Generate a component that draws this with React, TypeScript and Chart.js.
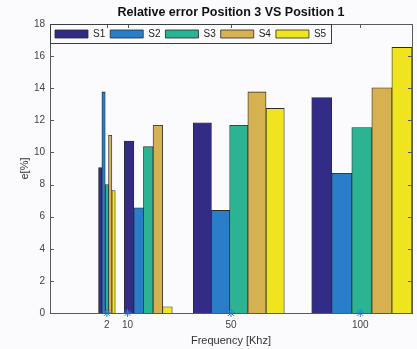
import React, { useEffect, useRef } from "react";
import { Chart, registerables } from "chart.js";

Chart.register(...registerables);

// ---- data ----
const FREQS = [2, 10, 50, 100];
const SERIES_NAMES = ["S1", "S2", "S3", "S4", "S5"];
const S1 = [9.05, 10.71, 11.85, 13.42];
const S2 = [13.77, 6.55, 6.39, 8.7];
const S3 = [8.0, 10.36, 11.69, 11.55];
const S4 = [11.07, 11.69, 13.77, 14.02];
const S5 = [7.63, 0.39, 12.74, 16.54];
const SERIES = [S1, S2, S3, S4, S5];
const Y_MAX = 18;
const Y_STEP = 2;

// ---- layout (group placement on the frequency axis, in axis units) ----
const GROUP_CENTERS = [2, 18, 53, 100.6];
const GROUP_BAR_WIDTHS = [1.29, 3.71, 7.04, 7.75];
const X_MIN = -20;
const X_MAX = 120;
const LEGEND_H = 19;

// ---- styles ----
const COLORS = ["#322C86", "#2A7DC8", "#2CB392", "#D5B152", "#F0E41F"];
const FONT = "'Liberation Sans', Arial, sans-serif";
const AXIS_COLOR = "#555a5e";
const TEXT_COLOR = "#444";

const framePlugin = {
  id: "frame",
  beforeLayout(chart: any) {
    // legend overlays the top of the plot area (like MATLAB's legend inside the axes)
    const lg = chart.legend;
    if (lg && !lg._overlayPatched) {
      const orig = lg.fit.bind(lg);
      lg.fit = function () {
        orig();
        this.height = 0;
      };
      lg._overlayPatched = true;
    }
  },
  afterLayout(chart: any) {
    const lg = chart.legend;
    if (lg) {
      lg.height = LEGEND_H;
      lg.bottom = lg.top + LEGEND_H;
    }
  },
  afterDraw(chart: any) {
    const { ctx, chartArea } = chart;
    const { left, right, top, bottom } = chartArea;
    ctx.save();
    ctx.strokeStyle = AXIS_COLOR;
    ctx.lineWidth = 1;
    ctx.strokeRect(Math.round(left) + 0.5, Math.round(top) + 0.5, Math.round(right - left), Math.round(bottom - top));
    ctx.beginPath();
    const ys = chart.scales.y;
    ys.ticks.forEach((t: any) => {
      const py = Math.round(ys.getPixelForValue(t.value)) + 0.5;
      ctx.moveTo(left, py);
      ctx.lineTo(left + 4, py);
      ctx.moveTo(right, py);
      ctx.lineTo(right - 4, py);
    });
    const xs = chart.scales.x;
    FREQS.forEach((f) => {
      const px = Math.round(xs.getPixelForValue(f)) + 0.5;
      ctx.moveTo(px, top);
      ctx.lineTo(px, top + 4);
    });
    ctx.stroke();
    // legend frame
    const lg = chart.legend;
    if (lg && lg.legendHitBoxes && lg.legendHitBoxes.length) {
      const hb = lg.legendHitBoxes;
      const last = hb[hb.length - 1];
      const x0 = Math.round(left) + 0.5;
      const x1 = Math.round(last.left + last.width + 5) + 0.5;
      const y0 = Math.round(top) + 0.5;
      const y1 = Math.round(top + LEGEND_H) + 0.5;
      ctx.strokeStyle = "#3a3f44";
      ctx.strokeRect(x0, y0, x1 - x0, y1 - y0);
    }
    ctx.restore();
  },
};

export default function App() {
  const ref = useRef<HTMLCanvasElement | null>(null);

  useEffect(() => {
    if (!ref.current) return;
    const datasets: any[] = [];
    SERIES.forEach((vals, s) => {
      FREQS.forEach((f, g) => {
        const w = GROUP_BAR_WIDTHS[g];
        datasets.push({
          type: "bar",
          label: SERIES_NAMES[s],
          data: [{ x: GROUP_CENTERS[g] + (s - 2) * w, y: vals[g] }],
          backgroundColor: COLORS[s],
          borderColor: "#2a2a2a",
          borderWidth: 0.8,
          grouped: false,
          barThickness: (ctx: any) => {
            const xs = ctx.chart.scales.x;
            if (!xs) return 10;
            return Math.abs(xs.getPixelForValue(w) - xs.getPixelForValue(0));
          },
          order: 1,
        });
      });
    });
    datasets.push({
      type: "scatter",
      label: "markers",
      data: FREQS.map((f) => ({ x: f, y: 0 })),
      pointStyle: "star",
      radius: 4,
      borderColor: "#2A80D2",
      backgroundColor: "#2A80D2",
      borderWidth: 1,
      clip: false,
      order: -1,
    });

    const chart = new Chart(ref.current, {
      type: "bar",
      data: { datasets },
      plugins: [framePlugin],
      options: {
        animation: false,
        responsive: false,
        maintainAspectRatio: false,
        layout: { padding: { left: 0, right: 4, top: 0, bottom: 0 } },
        plugins: {
          title: {
            display: true,
            fullSize: false,
            text: "Relative error Position 3 VS Position 1",
            font: { family: FONT, size: 12.5, weight: "bold" },
            color: "#111",
            padding: { top: 5, bottom: 4 },
          },
          legend: {
            position: "top",
            align: "start",
            fullSize: false,
            labels: {
              filter: (item: any) => item.datasetIndex < 20 && item.datasetIndex % 4 === 0,
              boxWidth: 33,
              boxHeight: 8,
              padding: 5,
              color: "#222",
              font: { family: FONT, size: 10 },
            },
          },
          tooltip: { enabled: false },
        },
        scales: {
          x: {
            type: "linear",
            min: X_MIN,
            max: X_MAX,
            offset: false,
            grid: { display: false, drawTicks: false },
            border: { display: false },
            afterBuildTicks: (s: any) => {
              s.ticks = FREQS.map((v) => ({ value: v }));
            },
            afterFit: (s: any) => {
              s.height = 36;
            },
            ticks: {
              autoSkip: false,
              maxRotation: 0,
              padding: 6,
              color: TEXT_COLOR,
              font: { family: FONT, size: 10 },
              callback: (v: any) => String(v),
            },
            title: {
              display: true,
              text: "Frequency [Khz]",
              color: "#333",
              font: { family: FONT, size: 11 },
              padding: { top: 0, bottom: 1 },
            },
          },
          y: {
            min: 0,
            max: Y_MAX,
            grid: { display: false, drawTicks: false },
            border: { display: false },
            afterFit: (s: any) => {
              s.width = 50;
            },
            ticks: {
              stepSize: Y_STEP,
              padding: 5,
              color: TEXT_COLOR,
              font: { family: FONT, size: 10 },
            },
            title: {
              display: true,
              text: "e[%]",
              color: "#333",
              font: { family: FONT, size: 11 },
              padding: { top: 18, bottom: 0 },
            },
          },
        },
      },
    });
    return () => chart.destroy();
  }, []);

  return (
    <div style={{ position: "fixed", left: 0, top: 0, width: 417, height: 349, background: "#fbfbfd" }}>
      <canvas ref={ref} width={417} height={349} style={{ display: "block" }} />
    </div>
  );
}
